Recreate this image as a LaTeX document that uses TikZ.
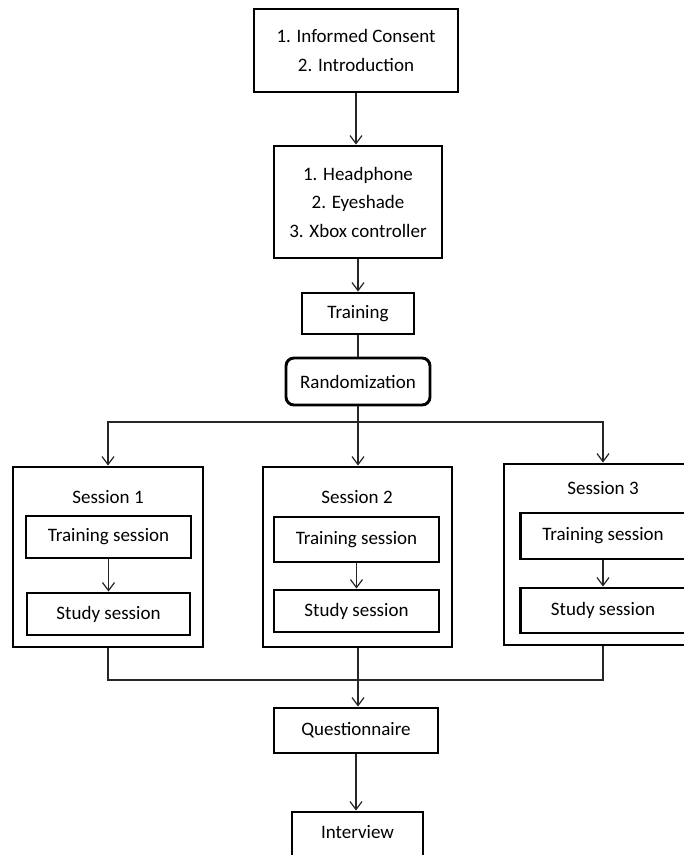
\documentclass[tikz,border=0pt]{standalone}
\usepackage{fontspec}
\setmainfont{Carlito}
\usetikzlibrary{arrows.meta}

\tikzset{
  box/.style={draw=black, line width=2.9pt, fill=white, inner sep=0pt,
              align=center, font=\fontsize{19}{28.5}\selectfont},
  roundbox/.style={box, rounded corners=8pt},
  label/.style={inner sep=0pt, font=\fontsize{19}{28.5}\selectfont},
  link/.style={draw=black!85, line width=1.2pt},
  arrow/.style={link, -{Straight Barb[length=8pt,width=12pt,line width=1.2pt]}}
}

\begin{document}
\begin{tikzpicture}[x=1pt, y=-1pt]
  \clip (0,0) rectangle (684,855);
  \fill[white] (0,0) rectangle (684,855);

  % main column
  \node[box, minimum width=204pt, minimum height=83pt] (consent) at (356,50.5)
    {1. Informed Consent\\2. Introduction};
  \node[box, minimum width=168pt, minimum height=112pt] (equip) at (358,202)
    {1. Headphone\\2. Eyeshade\\3. Xbox controller};
  \node[box, minimum width=112pt, minimum height=41pt] (train) at (358,313.5) {Training};
  \node[roundbox, minimum width=144pt, minimum height=47pt] (rand) at (358,381.5) {Randomization};

  % sessions
  \node[box, minimum width=190pt, minimum height=180pt] (s1) at (108,557) {};
  \node[box, minimum width=189pt, minimum height=180pt] (s2) at (357.5,557) {};
  \node[box, minimum width=198pt, minimum height=181pt] (s3) at (603,554.5) {};

  \node[label] (s1l) at (108,497) {Session 1};
  \node[label] (s2l) at (357,497) {Session 2};
  \node[label] (s3l) at (603,488) {Session 3};

  \node[box, minimum width=165pt, minimum height=42pt] (t1) at (108.5,537) {Training session};
  \node[box, minimum width=163pt, minimum height=42pt] (d1) at (108.5,614) {Study session};
  \node[box, minimum width=165pt, minimum height=45pt] (t2) at (356.5,539.5) {Training session};
  \node[box, minimum width=165pt, minimum height=42pt] (d2) at (356.5,611) {Study session};
  \node[box, minimum width=165pt, minimum height=46pt] (t3) at (603,536) {Training session};
  \node[box, minimum width=165pt, minimum height=45pt] (d3) at (603,610.5) {Study session};

  % closing steps
  \node[box, minimum width=164pt, minimum height=45pt] (quest) at (356,730.5) {Questionnaire};
  \node[box, minimum width=131pt, minimum height=50pt] (inter) at (357.5,837) {};
  \node[label] (interl) at (357.5,832) {Interview};

  \coordinate (split) at (358,422);
  \coordinate (merge) at (358,680);

  % connectors
  \draw[arrow] (consent.south) -- (consent.south |- equip.north);
  \draw[arrow] (equip.south) -- (equip.south |- train.north);
  \draw[link] (train.south) -- (train.south |- rand.north);
  \draw[link] (rand.south) -- (split);
  \draw[arrow] (split) -| (s1.north);
  \draw[arrow] (split) -- (split |- s2.north);
  \draw[arrow] (split) -| (s3.north);

  \draw[arrow] (t1.south) -- (t1.south |- d1.north);
  \draw[arrow] (t2.south) -- (t2.south |- d2.north);
  \draw[arrow] (t3.south) -- (t3.south |- d3.north);

  \draw[link] (s1.south) |- (merge);
  \draw[link] (s3.south) |- (merge);
  \draw[link] (s2.south -| merge) -- (merge);
  \draw[arrow] (merge) -- (merge |- quest.north);
  \draw[arrow] (quest.south) -- (quest.south |- inter.north);
\end{tikzpicture}
\end{document}
